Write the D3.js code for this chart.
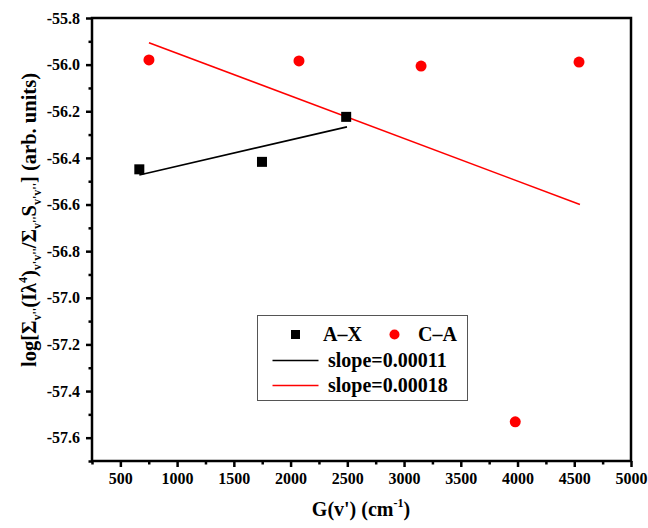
<!DOCTYPE html>
<html><head><meta charset="utf-8">
<script src="https://cdn.jsdelivr.net/npm/d3@7"></script>
<style>body{margin:0;background:#fff}svg{display:block}</style>
</head><body><svg id="c" width="648" height="528"></svg>
<script>
const axG = [667, 1748, 2490];
const axY = [-56.449, -56.417, -56.224];
const caG = [752, 2074, 3150, 3980, 4542];
const caY = [-55.980, -55.984, -56.006, -57.532, -55.989];
const fitAX_G = [667, 2497];
const fitAX_Y = [-56.473, -56.267];
const fitCA_G = [752, 4550];
const fitCA_Y = [-55.906, -56.600];
const xTicks = [500,1000,1500,2000,2500,3000,3500,4000,4500,5000];
const yTicks = [-55.8,-56.0,-56.2,-56.4,-56.6,-56.8,-57.0,-57.2,-57.4,-57.6];
const legendLabels = ["A\u2013X","C\u2013A","slope=0.00011","slope=0.00018"];

const FF = "'Liberation Serif','Times New Roman',serif";
const svg = d3.select("#c").attr("font-family",FF).attr("font-weight","bold");
const L=92,R=631,T=18,B=461;
const x = d3.scaleLinear().domain([250,5000]).range([L,R]);
const y = d3.scaleLinear().domain([-57.7,-55.8]).range([B,T]);

svg.append("rect").attr("x",L).attr("y",T).attr("width",R-L).attr("height",B-T)
  .attr("fill","none").attr("stroke","#000").attr("stroke-width",2.5);

function styleAxis(g){
  g.attr("font-family",FF).attr("font-weight","bold").attr("font-size",16);
  g.select(".domain").remove();
  g.selectAll("line").attr("stroke-width",2.5);
  g.selectAll("text").attr("fill","#000");
}
const xMinor = d3.range(250,5001,250).filter(v=>v%500!==0);
const xa = svg.append("g").attr("transform",`translate(0,${B})`);
xa.call(d3.axisBottom(x).tickValues(xTicks).tickSize(6).tickSizeOuter(0).tickPadding(6).tickFormat(d=>String(d)));
styleAxis(xa);
const xm = svg.append("g").attr("transform",`translate(0,${B})`);
xm.call(d3.axisBottom(x).tickValues(xMinor).tickSize(3.5).tickFormat(""));
styleAxis(xm);

const yMinor = d3.range(-57.7,-55.79,0.1).map(v=>+v.toFixed(1)).filter(v=>Math.round(v*10)%2!==0);
const ya = svg.append("g").attr("transform",`translate(${L},0)`);
ya.call(d3.axisLeft(y).tickValues(yTicks).tickSize(6).tickSizeOuter(0).tickPadding(6).tickFormat(d=>d.toFixed(1)));
styleAxis(ya);
const ym = svg.append("g").attr("transform",`translate(${L},0)`);
ym.call(d3.axisLeft(y).tickValues(yMinor).tickSize(3.5).tickFormat(""));
styleAxis(ym);

const line = d3.line().x(d=>x(d[0])).y(d=>y(d[1]));
svg.append("path").attr("d",line(d3.zip(fitAX_G,fitAX_Y))).attr("stroke","#000").attr("stroke-width",1.6).attr("fill","none");
svg.append("path").attr("d",line(d3.zip(fitCA_G,fitCA_Y))).attr("stroke","#f00").attr("stroke-width",1.6).attr("fill","none");

svg.selectAll(".sq").data(d3.zip(axG,axY)).join("rect")
  .attr("x",d=>x(d[0])-5).attr("y",d=>y(d[1])-5).attr("width",10).attr("height",10).attr("fill","#000");
svg.selectAll(".ci").data(d3.zip(caG,caY)).join("circle")
  .attr("cx",d=>x(d[0])).attr("cy",d=>y(d[1])).attr("r",5.5).attr("fill","#f00");

const lg = svg.append("g").attr("font-size",20);
lg.append("rect").attr("x",257.5).attr("y",315.5).attr("width",210).attr("height",85)
  .attr("fill","#fff").attr("stroke","#555").attr("stroke-width",1);
lg.append("rect").attr("x",291).attr("y",330).attr("width",9).attr("height",9).attr("fill","#000");
lg.append("text").attr("x",323).attr("y",341).text(legendLabels[0]);
lg.append("circle").attr("cx",394.5).attr("cy",334.5).attr("r",5).attr("fill","#f00");
lg.append("text").attr("x",418).attr("y",341).text(legendLabels[1]);
lg.append("line").attr("x1",272.5).attr("x2",318.5).attr("y1",360.5).attr("y2",360.5).attr("stroke","#000").attr("stroke-width",1.6);
lg.append("text").attr("x",328).attr("y",367).text(legendLabels[2]);
lg.append("line").attr("x1",272.5).attr("x2",318.5).attr("y1",385.5).attr("y2",385.5).attr("stroke","#f00").attr("stroke-width",1.6);
lg.append("text").attr("x",328).attr("y",392).text(legendLabels[3]);

const xt = svg.append("text").attr("x",361).attr("y",516).attr("text-anchor","middle").attr("font-size",20);
xt.append("tspan").text("G(v') (cm");
xt.append("tspan").attr("font-size",12).attr("dy",-9).text("-1");
xt.append("tspan").attr("dy",9).text(")");

const yt = svg.append("text").attr("transform","translate(36,220) rotate(-90)").attr("text-anchor","middle").attr("font-size",20.5);
const parts = [
 ["log[\u03A3",0,20.5],["v''",5,12],["(I\u03BB",-5,20.5],["4",-9,12],[")",9,20.5],["v'v''",5,12],["/\u03A3",-5,20.5],["v''",5,12],["S",-5,20.5],["v'v''",5,12],["] (arb. units)",-5,20.5]
];
parts.forEach(p=>yt.append("tspan").attr("dy",p[1]).attr("font-size",p[2]).text(p[0]));
</script></body></html>
